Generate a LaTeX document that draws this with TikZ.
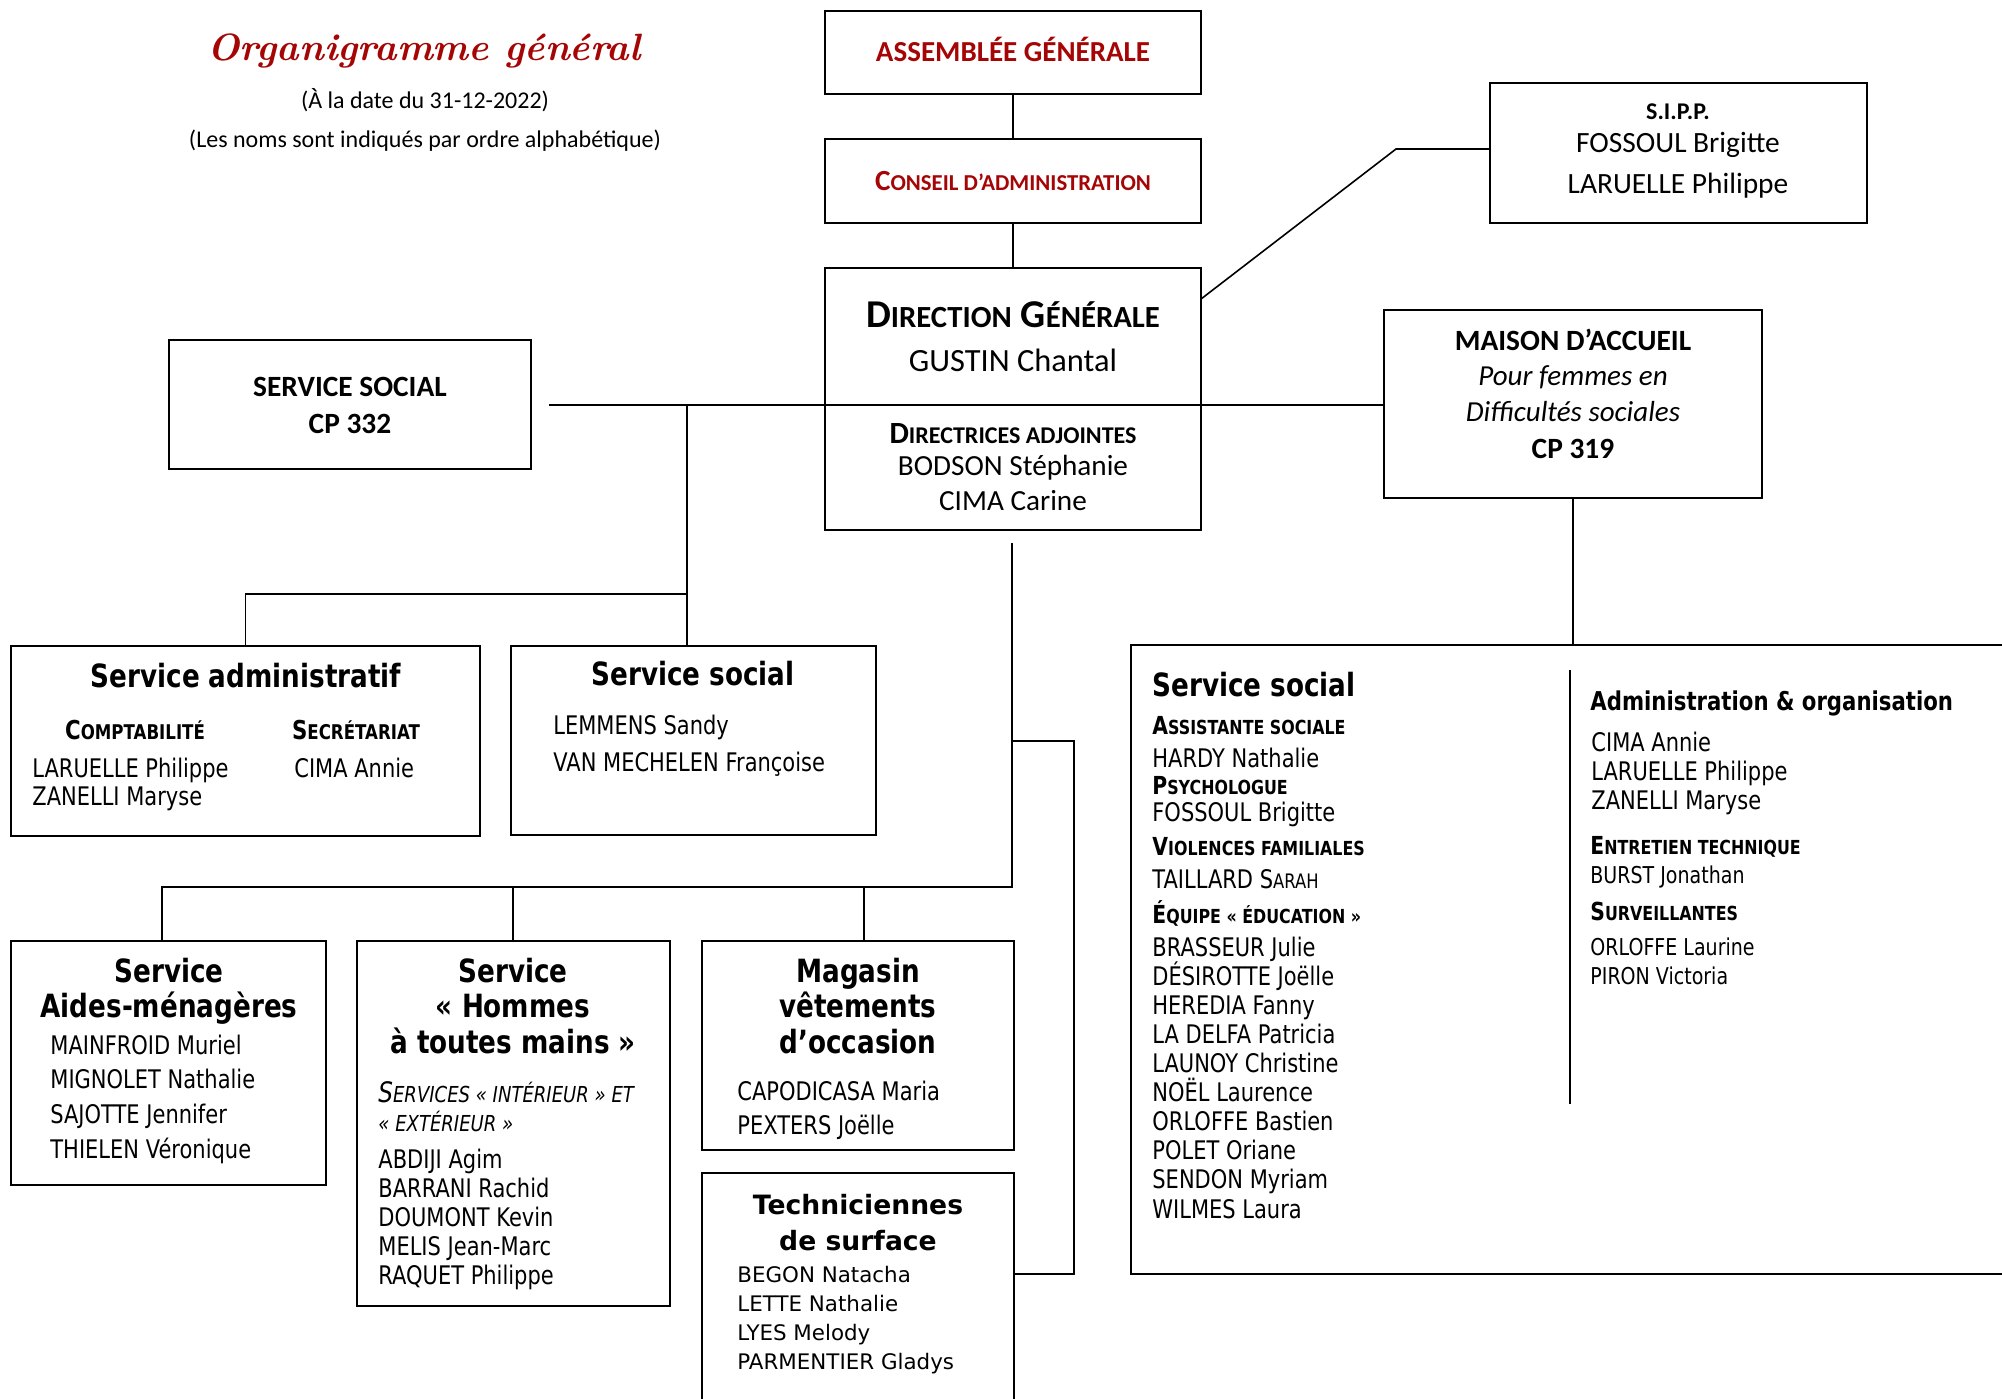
\documentclass[tikz,border=0pt]{standalone}
\usepackage{fontspec}
\usepackage{graphicx}
\usetikzlibrary{fit}
\newfontfamily\calib{Carlito}
\newfontfamily\tah[FakeStretch=0.82]{DejaVu Sans}
\newfontfamily\verd{DejaVu Sans}
\definecolor{dred}{RGB}{165,5,5}
\newcommand\fs[1]{\fontsize{#1}{#1}\selectfont}
\newcommand\Sc[1]{\scalebox{0.78}{#1}}
\begin{document}
\begin{tikzpicture}[x=0.5pt,y=-0.5pt,
 box/.style={draw, line width=1.2pt, inner sep=0pt},
 conn/.style={line width=0.8pt},
 txt/.style={inner sep=0pt, anchor=mid, yshift=-2.9pt},
 ltxt/.style={inner sep=0pt, anchor=mid west, yshift=-2.9pt}]
\useasboundingbox (0,0) rectangle (2002,1398);
\clip (0,0) rectangle (2002,1398);
\fill[white] (0,0) rectangle (2002,1398);

% boxes
\node[box, fit={(825,11) (1201,94)}] (ag) {};
\node[box, fit={(825,139) (1201,223)}] (ca) {};
\node[box, fit={(825,268) (1201,530)}] (dg) {};
\node[box, fit={(1490,83) (1867,223)}] (sipp) {};
\node[box, fit={(169,340) (531,469)}] (ss332) {};
\node[box, fit={(1384,310) (1762,498)}] (mai) {};
\node[box, fit={(11,646) (480,836)}] (sadm) {};
\node[box, fit={(511,646) (876,835)}] (ssoc) {};
\node[box, fit={(11,941) (326,1185)}] (aides) {};
\node[box, fit={(357,941) (670,1306)}] (homm) {};
\node[box, fit={(702,941) (1014,1150)}] (mag) {};
\node[box, fit={(702,1173) (1014,1430)}] (tech) {};
\node[box, fit={(1131,645) (2030,1274)}] (big) {};

% connectors
\draw[conn] (ag.south) -- (ca.north);
\draw[conn] (ca.south) -- (dg.north);
\coordinate (s1) at (1201,299);
\coordinate (s2) at (1396,149);
\draw[conn] (s1) -- (s2) -- (s2 -| sipp.west);
\coordinate (h1) at (549,405);
\draw[conn] (h1) -- (h1 -| mai.west);
\coordinate (h2) at (687,405);
\draw[conn] (h2) -- (h2 |- ssoc.north);
\coordinate (h3) at (687,594);
\draw[conn] (h3) -- (h3 -| sadm.north) -- (sadm.north);
\coordinate (v1) at (1012,543);
\coordinate (v2) at (1012,887);
\coordinate (v3) at (162,887);
\draw[conn] (v1) -- (v2) -- (v3) -- (v3 |- aides.north);
\coordinate (v4) at (513,887);
\draw[conn] (v4) -- (v4 |- homm.north);
\coordinate (v5) at (864,887);
\draw[conn] (v5) -- (v5 |- mag.north);
\coordinate (t1) at (1012,741);
\coordinate (t2) at (1074,741);
\coordinate (t3) at (1074,1274);
\draw[conn] (t1) -- (t2) -- (t3) -- (t3 -| tech.east);
\draw[conn] (mai.south) -- (mai.south |- big.north);
\coordinate (d1) at (1570,670);
\coordinate (d2) at (1570,1104);
\draw[conn] (d1) -- (d2);

% title
\node[inner sep=0pt, anchor=base, text=dred] (title) at (424,60) {\fs{19}\bfseries\itshape Organigramme général};
\node[txt] (sub1) at (425,98) {\calib\fs{12}(À la date du 31-12-2022)};
\node[txt] (sub2) at (425,137) {\calib\fs{12}(Les noms sont indiqués par ordre alphabétique)};

% top column
\node[txt, text=dred] (agt) at (1013,51) {\calib\bfseries\fs{14.5}ASSEMBLÉE GÉNÉRALE};
\node[txt, text=dred] (cat) at (1013,180) {\calib\bfseries\fs{14.6}C\Sc{ONSEIL D’ADMINISTRATION}};
\node[txt] (dg1) at (1013,317) {\calib\bfseries\fs{19.7}D\Sc{IRECTION} G\Sc{ÉNÉRALE}};
\node[txt] (dg2) at (1013,361) {\calib\fs{16.2}GUSTIN Chantal};
\node[txt] (dg3) at (1013,433) {\calib\bfseries\fs{15.4}D\Sc{IRECTRICES ADJOINTES}};
\node[txt] (dg4) at (1013,465) {\calib\fs{14.6}BODSON Stéphanie};
\node[txt] (dg5) at (1013,500) {\calib\fs{14.6}CIMA Carine};

\node[txt] (sp1) at (1678,109) {\calib\bfseries\fs{12}S.I.P.P.};
\node[txt] (sp2) at (1678,142) {\calib\fs{14.7}FOSSOUL Brigitte};
\node[txt] (sp3) at (1678,183) {\calib\fs{14.7}LARUELLE Philippe};

\node[txt] (sc1) at (350,386) {\calib\bfseries\fs{14.7}SERVICE SOCIAL};
\node[txt] (sc2) at (350,423) {\calib\bfseries\fs{14.7}CP 332};

\node[txt] (m1) at (1573,340) {\calib\bfseries\fs{14.7}MAISON D’ACCUEIL};
\node[txt] (m2) at (1573,375) {\calib\itshape\fs{14.5}Pour femmes en};
\node[txt] (m3) at (1573,411) {\calib\itshape\fs{14.5}Difficultés sociales};
\node[txt] (m4) at (1573,448) {\calib\bfseries\fs{14.7}CP 319};

% service administratif
\node[txt] (sa1) at (246,677) {\tah\bfseries\fs{16}Service administratif};
\node[txt] (sa2) at (135,729) {\tah\bfseries\fs{13}C\Sc{OMPTABILITÉ}};
\node[txt] (sa3) at (356,729) {\tah\bfseries\fs{13}S\Sc{ECRÉTARIAT}};
\node[ltxt] (sa4) at (32,767) {\tah\fs{12.8}LARUELLE Philippe};
\node[ltxt] (sa5) at (32,795) {\tah\fs{12.8}ZANELLI Maryse};
\node[ltxt] (sa6) at (294,767) {\tah\fs{12.8}CIMA Annie};

% service social (middle)
\node[txt] (so1) at (693,675) {\tah\bfseries\fs{16}Service social};
\node[ltxt] (so2) at (553,724) {\tah\fs{12.8}LEMMENS Sandy};
\node[ltxt] (so3) at (553,761) {\tah\fs{12.8}VAN MECHELEN Françoise};

% aides-menageres
\node[txt] (ai1) at (169,972) {\tah\bfseries\fs{16}Service};
\node[txt] (ai2) at (169,1007) {\tah\bfseries\fs{16}Aides-ménagères};
\foreach \nm [count=\i] in {MAINFROID Muriel, MIGNOLET Nathalie, SAJOTTE Jennifer, THIELEN Véronique}
  \node[ltxt] (aid\i) at (50,{1044+34.7*(\i-1)}) {\tah\fs{12.8}\nm};

% hommes a toutes mains
\node[txt] (ho1) at (513,972) {\tah\bfseries\fs{16}Service};
\node[txt] (ho2) at (513,1007) {\tah\bfseries\fs{16}«~Hommes};
\node[txt] (ho3) at (513,1043) {\tah\bfseries\fs{16}à toutes mains~»};
\node[ltxt] (ho4) at (378,1092) {\tah\itshape\fs{14.1}S\Sc{ERVICES «~INTÉRIEUR~» ET}};
\node[ltxt] (ho5) at (378,1121) {\tah\itshape\fs{14.1}\Sc{«~EXTÉRIEUR~»}};
\foreach \nm [count=\i] in {ABDIJI Agim, BARRANI Rachid, DOUMONT Kevin, MELIS Jean-Marc, RAQUET Philippe}
  \node[ltxt] (hom\i) at (378,{1158+29*(\i-1)}) {\tah\fs{12.8}\nm};

% magasin
\node[txt] (mg1) at (858,972) {\tah\bfseries\fs{16}Magasin};
\node[txt] (mg2) at (858,1007) {\tah\bfseries\fs{16}vêtements};
\node[txt] (mg3) at (858,1043) {\tah\bfseries\fs{16}d’occasion};
\node[ltxt] (mg4) at (737,1090) {\tah\fs{12.8}CAPODICASA Maria};
\node[ltxt] (mg5) at (737,1124) {\tah\fs{12.8}PEXTERS Joëlle};

% techniciennes
\node[txt] (te1) at (858,1204) {\verd\bfseries\fs{13.3}Techniciennes};
\node[txt] (te2) at (858,1240) {\verd\bfseries\fs{13.3}de surface};
\foreach \nm [count=\i] in {BEGON Natacha, LETTE Nathalie, LYES Melody, PARMENTIER Gladys}
  \node[ltxt] (tec\i) at (737,{1272+29*(\i-1)}) {\verd\fs{10.7}\nm};

% big box left column
\node[ltxt] (b1) at (1152,686) {\tah\bfseries\fs{16}Service social};
\node[ltxt] (b2) at (1152,724) {\tah\bfseries\fs{12.4}A\Sc{SSISTANTE SOCIALE}};
\node[ltxt] (b3) at (1152,757) {\tah\fs{12.8}HARDY Nathalie};
\node[ltxt] (b4) at (1152,784) {\tah\bfseries\fs{12.4}P\Sc{SYCHOLOGUE}};
\node[ltxt] (b5) at (1152,811) {\tah\fs{12.8}FOSSOUL Brigitte};
\node[ltxt] (b6) at (1152,845) {\tah\bfseries\fs{12.4}V\Sc{IOLENCES FAMILIALES}};
\node[ltxt] (b7) at (1152,878) {\tah\fs{12.8}TAILLARD S\Sc{ARAH}};
\node[ltxt] (b8) at (1152,913) {\tah\bfseries\fs{12.4}É\Sc{QUIPE «~ÉDUCATION~»}};
\foreach \nm [count=\i] in {BRASSEUR Julie, DÉSIROTTE Joëlle, HEREDIA Fanny, LA DELFA Patricia, LAUNOY Christine, NOËL Laurence, ORLOFFE Bastien, POLET Oriane, SENDON Myriam, WILMES Laura}
  \node[ltxt] (edu\i) at (1152,{946+29.1*(\i-1)}) {\tah\fs{12.8}\nm};

% big box right column
\node[ltxt] (r1) at (1590,700) {\tah\bfseries\fs{12.95}Administration \& organisation};
\node[ltxt] (r2) at (1591,741) {\tah\fs{12.8}CIMA Annie};
\node[ltxt] (r3) at (1591,770) {\tah\fs{12.8}LARUELLE Philippe};
\node[ltxt] (r4) at (1591,799) {\tah\fs{12.8}ZANELLI Maryse};
\node[ltxt] (r5) at (1590,844) {\tah\bfseries\fs{12.4}E\Sc{NTRETIEN TECHNIQUE}};
\node[ltxt] (r6) at (1590,873) {\tah\fs{11.6}BURST Jonathan};
\node[ltxt] (r7) at (1590,910) {\tah\bfseries\fs{12.4}S\Sc{URVEILLANTES}};
\node[ltxt] (r8) at (1590,945) {\tah\fs{11.6}ORLOFFE Laurine};
\node[ltxt] (r9) at (1590,974) {\tah\fs{11.6}PIRON Victoria};
\end{tikzpicture}
\end{document}
